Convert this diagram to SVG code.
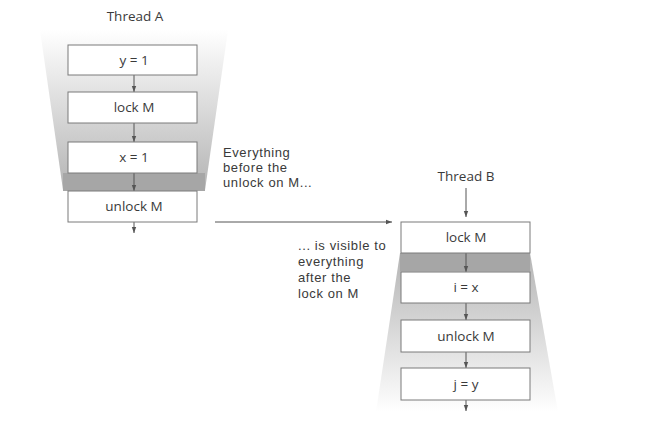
<svg xmlns="http://www.w3.org/2000/svg" width="648" height="432" viewBox="0 0 648 432">
<style>
text{font-family:"Open Sans","Liberation Sans",sans-serif;font-size:13.5px;fill:#3a3a3a}
.c{text-anchor:middle}
.lab{font-family:"Liberation Sans",Arial,sans-serif;font-size:13px;letter-spacing:0.6px}
.box{fill:#fff;stroke:#7a7a7a;stroke-width:1}
.ln{stroke:#555;stroke-width:1;fill:none}
</style>
<defs>
<linearGradient id="ga" x1="0" y1="0" x2="0" y2="1">
<stop offset="0" stop-color="#ffffff"/>
<stop offset="1" stop-color="#b4b4b4"/>
</linearGradient>
<linearGradient id="gb" x1="0" y1="0" x2="0" y2="1">
<stop offset="0" stop-color="#b4b4b4"/>
<stop offset="1" stop-color="#ffffff"/>
</linearGradient>
<marker id="ah" viewBox="0 0 6 6" refX="6" refY="3" markerWidth="6" markerHeight="6" orient="auto" markerUnits="userSpaceOnUse">
<path d="M0,0.8 L6,3 L0,5.2 z" fill="#555"/>
</marker>
</defs>
<rect width="648" height="432" fill="#fff"/>
<g id="shadeA">
<polygon points="40,30 228,30 205,190 63,190" fill="url(#ga)"/>
<rect x="63" y="173" width="142" height="18" fill="#a6a6a6"/>
</g>
<g id="shadeB">
<polygon points="400,253 530,253 558,412 376,412" fill="url(#gb)"/>
<rect x="400" y="253" width="130" height="18" fill="#a6a6a6"/>
</g>
<text class="c" x="135" y="21">Thread A</text>
<text class="c" x="466" y="181">Thread B</text>
<g id="connectors">
<line class="ln" x1="134" y1="75" x2="134" y2="92" marker-end="url(#ah)"/>
<line class="ln" x1="134" y1="123" x2="134" y2="142" marker-end="url(#ah)"/>
<line class="ln" x1="134" y1="173" x2="134" y2="191" marker-end="url(#ah)"/>
<line class="ln" x1="134" y1="222" x2="134" y2="233" marker-end="url(#ah)"/>
<line class="ln" x1="215" y1="222" x2="392" y2="222" marker-end="url(#ah)"/>
<line class="ln" x1="466" y1="188" x2="466" y2="217" marker-end="url(#ah)"/>
<line class="ln" x1="466" y1="253" x2="466" y2="272" marker-end="url(#ah)"/>
<line class="ln" x1="466" y1="303" x2="466" y2="320" marker-end="url(#ah)"/>
<line class="ln" x1="466" y1="352" x2="466" y2="368" marker-end="url(#ah)"/>
<line class="ln" x1="466" y1="400" x2="466" y2="411" marker-end="url(#ah)"/>
</g>
<g id="a1"><rect class="box" x="68" y="45" width="129" height="30"/><text class="c" x="134" y="65">y = 1</text></g>
<g id="a2"><rect class="box" x="68" y="92" width="129" height="31"/><text class="c" x="134" y="112">lock M</text></g>
<g id="a3"><rect class="box" x="68" y="142" width="129" height="31"/><text class="c" x="134" y="162">x = 1</text></g>
<g id="a4"><rect class="box" x="68" y="191" width="129" height="31"/><text class="c" x="134" y="211">unlock M</text></g>
<g id="b1"><rect class="box" x="401" y="222" width="129" height="31"/><text class="c" x="466" y="242">lock M</text></g>
<g id="b2"><rect class="box" x="401" y="272" width="129" height="31"/><text class="c" x="466" y="292">i = x</text></g>
<g id="b3"><rect class="box" x="401" y="320" width="129" height="32"/><text class="c" x="466" y="341">unlock M</text></g>
<g id="b4"><rect class="box" x="401" y="368" width="129" height="32"/><text class="c" x="466" y="389">j = y</text></g>
<g id="labels">
<text class="lab" x="223" y="157">Everything</text>
<text class="lab" x="223" y="172.2">before the</text>
<text class="lab" x="223" y="187.4">unlock on M...</text>
<text class="lab" x="298" y="250">... is visible to</text>
<text class="lab" x="298" y="266">everything</text>
<text class="lab" x="298" y="282">after the</text>
<text class="lab" x="298" y="298">lock on M</text>
</g>
</svg>
